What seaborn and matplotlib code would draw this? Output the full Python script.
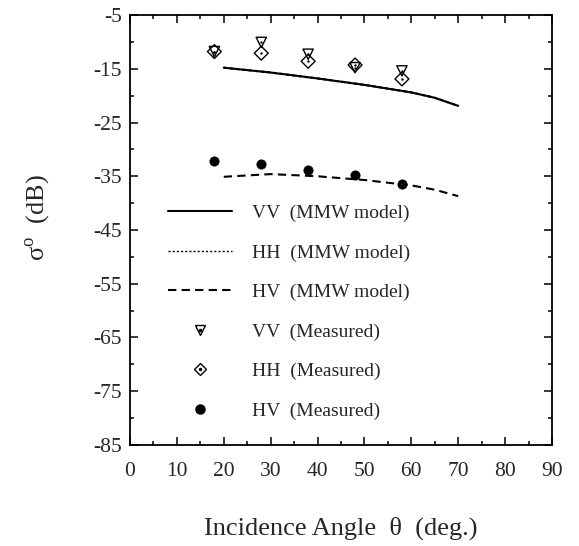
import matplotlib

matplotlib.use("Agg")
import matplotlib.pyplot as plt
import numpy as np
import pandas as pd
import seaborn as sns
from matplotlib.legend_handler import HandlerTuple
from matplotlib.lines import Line2D

# MMW model curves (dB)
model_angle = [20, 30, 40, 50, 60, 65, 70]
model_vv = [-14.8, -15.7, -16.8, -18.0, -19.4, -20.4, -21.9]
model_hh = [-14.8, -15.7, -16.8, -18.0, -19.4, -20.4, -21.9]
model_hv = [-35.1, -34.6, -35.0, -35.7, -36.7, -37.5, -38.7]

# measured points (dB)
meas_angle = [18, 28, 38, 48, 58]
meas_vv = [-11.8, -10.1, -12.3, -14.8, -15.4]
meas_hh = [-11.8, -12.1, -13.6, -14.3, -16.9]
meas_hv = [-32.2, -32.7, -33.8, -34.8, -36.5]

x_ticks = list(range(0, 91, 10))
y_ticks = list(range(-85, -4, 10))

model_df = pd.DataFrame({
    "angle": model_angle * 3,
    "sigma": model_hh + model_vv + model_hv,
    "pol": ["HH"] * len(model_angle) + ["VV"] * len(model_angle) + ["HV"] * len(model_angle),
})

sns.set_style("ticks")
plt.rcParams["font.family"] = ["Liberation Serif", "DejaVu Serif"]
plt.rcParams["mathtext.fontset"] = "custom"
plt.rcParams["mathtext.rm"] = "Liberation Serif"
plt.rcParams["axes.unicode_minus"] = False

fig = plt.figure(figsize=(5.79, 5.46), dpi=100)
ax = fig.add_axes([0.2245, 0.185, 0.7288, 0.7875])

sns.lineplot(
    data=model_df, x="angle", y="sigma", style="pol",
    dashes={"HH": (1.5, 1.5), "VV": "", "HV": (4, 2.5)},
    style_order=["HH", "VV", "HV"],
    color="black", linewidth=1.5, legend=False, ax=ax,
)

sns.scatterplot(x=meas_angle, y=meas_hv, marker="o", s=45, color="black",
                edgecolor="black", linewidth=0.5, ax=ax, zorder=4)
sns.scatterplot(x=meas_angle, y=meas_hh, marker="D", s=50, facecolor="none",
                edgecolor="black", linewidth=1.0, ax=ax, zorder=4)
sns.scatterplot(x=meas_angle, y=meas_vv, marker="v", s=55, facecolor="none",
                edgecolor="black", linewidth=1.0, ax=ax, zorder=4)
# centre dots of the open markers
sns.scatterplot(x=meas_angle + meas_angle, y=meas_hh + meas_vv, marker="o", s=3,
                color="black", linewidth=0, ax=ax, zorder=5)

ax.set_xlim(0, 90)
ax.set_ylim(-85, -5)
ax.set_xticks(x_ticks)
ax.set_yticks(y_ticks)
ax.set_xticks(np.arange(5, 90, 10), minor=True)
ax.set_yticks(np.arange(-80, -5, 10), minor=True)
ax.tick_params(which="both", direction="in", top=True, right=True, width=1.1,
               labelsize=15.5, color="black")
ax.tick_params(which="major", length=6)
ax.tick_params(which="minor", length=3)
ax.tick_params(axis="x", pad=12)
ax.tick_params(axis="y", pad=6)
for sp in ax.spines.values():
    sp.set_linewidth(1.3)
    sp.set_color("black")

ax.set_xlabel("Incidence Angle  θ  (deg.)", fontsize=19, labelpad=26)
ax.set_ylabel(r"σ$^{\mathrm{o}}$  (dB)", fontsize=19)
ax.yaxis.set_label_coords(-0.185, 0.53)

dot = Line2D([], [], linestyle="", marker="o", markersize=1.5, color="black")
handles = [
    Line2D([], [], color="black", linewidth=1.5),
    Line2D([], [], color="black", linewidth=1.0, dashes=(1.5, 1.5)),
    Line2D([], [], color="black", linewidth=1.5, dashes=(4, 2.5)),
    (Line2D([], [], linestyle="", marker="v", markersize=7, markerfacecolor="none",
            markeredgecolor="black", markeredgewidth=1.0), dot),
    (Line2D([], [], linestyle="", marker="D", markersize=6, markerfacecolor="none",
            markeredgecolor="black", markeredgewidth=1.0), dot),
    Line2D([], [], linestyle="", marker="o", markersize=6.5, color="black"),
]
labels = ["VV  (MMW model)", "HH  (MMW model)", "HV  (MMW model)",
          "VV  (Measured)", "HH  (Measured)", "HV  (Measured)"]
ax.legend(handles, labels, loc="upper left", bbox_to_anchor=(0.09, 0.559),
          frameon=False, fontsize=14, handlelength=3.3, handletextpad=1.0,
          labelspacing=1.12, borderpad=0, borderaxespad=0,
          handler_map={tuple: HandlerTuple(ndivide=1)})

fig.savefig("out.png", dpi=100)
